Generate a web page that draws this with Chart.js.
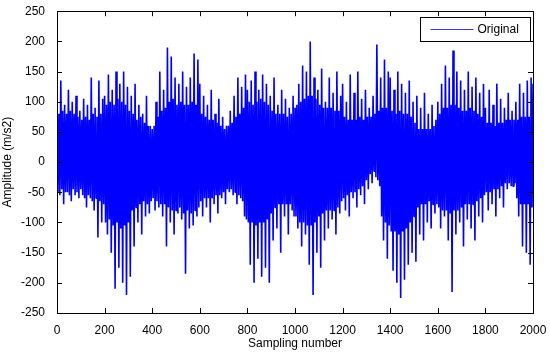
<!DOCTYPE html>
<html>
<head>
<meta charset="utf-8">
<title>Original signal</title>
<script src="https://cdn.jsdelivr.net/npm/chart.js@4"></script>
<style>
  html, body { margin: 0; padding: 0; background: #fff; }
  #wrap { width: 550px; height: 355px; }
</style>
</head>
<body>
<div id="wrap"><canvas id="myChart"></canvas></div>
<script>
// one reading every 4 samples (each row = 200 samples)
const sampleStep = 4;
const amplitude = [
  40, -50, 80, -55, 135, -45, 85, -70, 95, -50, 80, -50, 120, -55, 85, -65, 100, -45, 80, -55, 110, -50, 75, -60, 85,
  -45, 70, -55, 105, -60, 75, -75, 95, -55, 70, -60, 140, -65, 80, -80, 90, -60, 75, -125, 135, -65, 80, -100, 105, -70,

  110, -100, 95, -120, 145, -95, 100, -150, 120, -105, 95, -210, 150, -100, 105, -175, 130, -110, 100, -200, 150, -105, 95, -220, 125,
  -100, 85, -190, 110, -80, 80, -140, 130, -75, 70, -100, 95, -70, 75, -120, 80, -65, 65, -90, 110, -70, 60, -85, 60, -65,

  55, -60, 60, -80, 100, -65, 75, -75, 150, -70, 85, -90, 120, -70, 90, -140, 190, -75, 100, -100, 175, -80, 105, -120, 140,
  -80, 95, -85, 130, -75, 100, -95, 150, -85, 95, -185, 125, -80, 95, -110, 140, -85, 100, -105, 180, -80, 95, -90, 170, -75,

  130, -65, 80, -90, 110, -60, 75, -75, 95, -60, 70, -100, 120, -60, 70, -70, 80, -55, 65, -85, 105, -55, 60, -60, 75,
  -50, 55, -70, 60, -45, 60, -50, 85, -45, 65, -55, 110, -50, 75, -70, 140, -55, 80, -60, 125, -65, 90, -90, 145, -95,

  120, -100, 100, -170, 135, -100, 95, -200, 150, -105, 100, -160, 120, -100, 105, -190, 145, -100, 100, -175, 130, -95, 95, -200, 110,
  -85, 85, -130, 140, -75, 80, -110, 95, -70, 80, -150, 120, -70, 80, -90, 105, -70, 75, -120, 90, -70, 80, -80, 110, -90,

  90, -90, 95, -110, 130, -100, 100, -140, 160, -100, 105, -120, 150, -105, 110, -170, 200, -105, 110, -220, 140, -100, 105, -150, 120,
  -90, 95, -175, 155, -85, 90, -130, 100, -80, 90, -110, 140, -80, 90, -95, 115, -80, 85, -120, 150, -75, 85, -85, 110, -65,

  130, -60, 75, -80, 100, -55, 70, -90, 145, -50, 70, -60, 115, -50, 70, -75, 150, -45, 75, -55, 105, -40, 70, -70, 120,
  -30, 75, -45, 90, -20, 75, -35, 110, -15, 80, -25, 195, -30, 85, -40, 140, -90, 90, -130, 170, -100, 90, -160, 150, -105,

  140, -115, 85, -180, 120, -115, 80, -200, 150, -120, 85, -225, 130, -115, 80, -195, 115, -110, 80, -170, 135, -100, 75, -150, 100,
  -90, 65, -165, 110, -75, 55, -120, 90, -70, 55, -130, 115, -70, 55, -100, 80, -65, 55, -110, 95, -70, 60, -85, 70, -70,

  100, -75, 80, -110, 130, -80, 90, -90, 160, -80, 90, -130, 140, -85, 95, -215, 185, -80, 95, -120, 150, -80, 90, -100, 135,
  -75, 85, -140, 120, -70, 85, -95, 150, -70, 90, -110, 125, -70, 85, -130, 140, -65, 80, -90, 115, -60, 75, -100, 130, -55,

  90, -50, 65, -80, 120, -50, 65, -70, 95, -45, 60, -90, 130, -45, 65, -60, 105, -40, 65, -75, 90, -35, 70, -45, 115,
  -35, 70, -40, 85, -40, 70, -35, 100, -60, 70, -90, 130, -70, 75, -140, 115, -70, 75, -150, 135, -70, 75, -170, 140, -75,

  130
];
const seriesName = "Original";
const xTitle = "Sampling number";
const yTitle = "Amplitude (m/s2)";

const myChart = document.getElementById("myChart");

// matlab style box with inward ticks + legend box
const marcoMatlab = {
  id: "marcoMatlab",
  afterDatasetsDraw(chart) {
    const { ctx, chartArea: a, scales: { x, y } } = chart;
    ctx.save();
    ctx.strokeStyle = "#000";
    ctx.lineWidth = 1;
    ctx.strokeRect(Math.round(a.left) + 0.5, Math.round(a.top) + 0.5,
      Math.round(a.right - a.left), Math.round(a.bottom - a.top));
    ctx.beginPath();
    x.ticks.forEach((t) => {
      const px = Math.round(x.getPixelForValue(t.value)) + 0.5;
      ctx.moveTo(px, a.bottom); ctx.lineTo(px, a.bottom - 5);
      ctx.moveTo(px, a.top); ctx.lineTo(px, a.top + 5);
    });
    y.ticks.forEach((t) => {
      const py = Math.round(y.getPixelForValue(t.value)) + 0.5;
      ctx.moveTo(a.left, py); ctx.lineTo(a.left + 5, py);
      ctx.moveTo(a.right, py); ctx.lineTo(a.right - 5, py);
    });
    ctx.stroke();

    // legend
    const bx = Math.round(a.right) - 113 + 0.5, by = Math.round(a.top) + 6 + 0.5;
    ctx.fillStyle = "#fff";
    ctx.fillRect(bx, by, 110, 24);
    ctx.strokeRect(bx, by, 110, 24);
    ctx.strokeStyle = "#3535e8";
    ctx.beginPath();
    ctx.moveTo(bx + 10, by + 12); ctx.lineTo(bx + 53, by + 12);
    ctx.stroke();
    ctx.fillStyle = "#000";
    ctx.font = "12px 'Liberation Sans', Arial, sans-serif";
    ctx.textBaseline = "middle";
    ctx.fillText(chart.data.datasets[0].label, bx + 57, by + 12.5);
    ctx.restore();
  },
};

const pintarGrafica = () => {
  new Chart(myChart, {
    type: "line",
    data: {
      datasets: [
        {
          label: seriesName,
          data: amplitude.map((v, i) => ({ x: i * sampleStep, y: v })),
          borderColor: "#0000ff",
          borderWidth: 1.6,
          borderJoinStyle: "bevel",
          pointRadius: 0,
          tension: 0,
          fill: false,
        },
      ],
    },
    options: {
      responsive: true,
      maintainAspectRatio: false,
      animation: false,
      layout: { padding: { left: 0, right: 17, top: 11, bottom: 0 } },
      plugins: { legend: { display: false }, tooltip: { enabled: false } },
      scales: {
        x: {
          type: "linear",
          min: 0,
          max: 2000,
          grid: { display: false },
          border: { display: false },
          ticks: {
            stepSize: 200,
            color: "#000",
            padding: 2,
            maxRotation: 0,
            callback: (v) => String(v),
            font: { family: "'Liberation Sans', Arial, sans-serif", size: 12 },
          },
          title: {
            display: true,
            text: xTitle,
            color: "#000",
            padding: { top: 0, bottom: 4 },
            font: { family: "'Liberation Sans', Arial, sans-serif", size: 12 },
          },
          afterFit: (s) => { s.height = 42; },
        },
        y: {
          min: -250,
          max: 250,
          grid: { display: false },
          border: { display: false },
          ticks: {
            stepSize: 50,
            color: "#000",
            padding: 4,
            font: { family: "'Liberation Sans', Arial, sans-serif", size: 12 },
          },
          title: {
            display: true,
            text: yTitle,
            color: "#000",
            padding: { top: 0, bottom: 0 },
            font: { family: "'Liberation Sans', Arial, sans-serif", size: 12 },
          },
          afterFit: (s) => { s.width = 57; },
        },
      },
    },
    plugins: [marcoMatlab],
  });
};

window.addEventListener("load", pintarGrafica);
</script>
</body>
</html>
